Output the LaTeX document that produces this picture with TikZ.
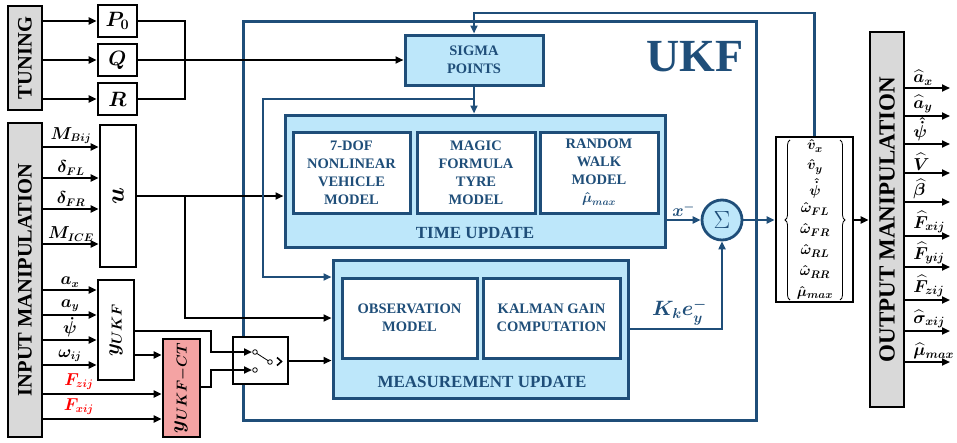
\documentclass[tikz,border=0pt]{standalone}
\usepackage{fontspec}
\setmainfont{Liberation Serif}
\usepackage{amsmath}
\usepackage{graphicx}
\usetikzlibrary{arrows.meta,decorations.pathreplacing}
\definecolor{dblue}{HTML}{1F4E79}
\definecolor{lblue}{HTML}{BDE7FA}
\definecolor{gfill}{HTML}{D9D9D9}
\definecolor{rfill}{HTML}{F4A3A3}
\definecolor{rtext}{HTML}{FF0000}
\begin{document}
\begin{tikzpicture}[x=1pt,y=-1pt,
  arr/.style={line width=2pt,-{Triangle[length=8pt,width=7pt]}},
  ln/.style={line width=2pt},
  barr/.style={draw=dblue,line width=2.3pt,-{Triangle[length=8pt,width=7pt]}},
  bbox/.style={draw,line width=2.8pt,fill=white,inner sep=0pt},
  gbox/.style={draw,line width=2.8pt,fill=gfill,inner sep=0pt,font=\fontsize{20.5}{21}\selectfont\bfseries},
  lbbox/.style={draw=dblue,line width=3pt,fill=lblue,inner sep=0pt},
  wbbox/.style={draw=dblue,line width=3pt,fill=white,inner sep=0pt,align=center,text=dblue,font=\fontsize{14.5}{18}\selectfont\bfseries},
  bigtxt/.style={text=dblue,font=\fontsize{17}{17}\selectfont\bfseries},
  mlab/.style={font=\fontsize{16}{16}\selectfont\boldmath,inner sep=1pt},
  vlab/.style={font=\fontsize{15}{15}\selectfont\boldmath,inner sep=0pt},
  olab/.style={font=\fontsize{16.5}{16.5}\selectfont\boldmath,inner sep=0pt,anchor=south west,pos=0,xshift=7pt,yshift=2pt},
  vbrace/.style={decorate,decoration={brace,amplitude=5pt},line width=0.8pt}
]
\useasboundingbox (0,0) rectangle (957,442);
% UKF frame
\node[draw=dblue,line width=3pt,minimum width=513pt,minimum height=399pt,inner sep=0pt] (ukf) at (499.5,220.5) {};
\node[text=dblue,font=\fontsize{46}{46}\selectfont\bfseries] (ukflbl) at (695,57) {UKF};

% tuning
\node[gbox,minimum width=34pt,minimum height=104pt] (tuning) at (25,58) {\rotatebox{90}{TUNING}};
\node[bbox,minimum width=39pt,minimum height=32pt,font=\fontsize{20}{20}\selectfont\boldmath] (P0) at (117.5,21) {$P_0$};
\node[bbox,minimum width=39pt,minimum height=32pt,font=\fontsize{20}{20}\selectfont\boldmath] (Q) at (117.5,60) {$Q$};
\node[bbox,minimum width=39pt,minimum height=32pt,font=\fontsize{20}{20}\selectfont\boldmath] (R) at (117.5,99) {$R$};

% input manipulation
\node[gbox,minimum width=34pt,minimum height=314pt] (inman) at (25,280) {\rotatebox{90}{INPUT MANIPULATION}};
\node[bbox,minimum width=36pt,minimum height=142pt,font=\fontsize{32}{32}\selectfont\boldmath] (u) at (118,196) {\rotatebox{90}{$u$}};
\node[bbox,minimum width=36pt,minimum height=100pt,font=\fontsize{22}{22}\selectfont\boldmath] (yukf) at (116,330) {\rotatebox{90}{$y_{UKF}$}};
\node[bbox,fill=rfill,minimum width=37pt,minimum height=98pt,font=\fontsize{22}{22}\selectfont\boldmath] (yct) at (181.5,388) {\rotatebox{90}{$y_{UKF-CT}$}};
\node[bbox,minimum width=55pt,minimum height=47pt] (switch) at (260.5,360.5) {};

% sigma points
\node[lbbox,minimum width=138pt,minimum height=50pt,align=center,text=dblue,font=\fontsize{14.5}{18}\selectfont\bfseries] (sigma) at (474,60) {SIGMA\\POINTS};

% time update
\node[lbbox,minimum width=380pt,minimum height=132pt] (tu) at (475,181) {};
\node[wbbox,minimum width=117pt,minimum height=81pt] (tu1) at (351.5,172.5) {7-DOF\\NONLINEAR\\VEHICLE\\MODEL};
\node[wbbox,minimum width=118pt,minimum height=81pt] (tu2) at (476,172.5) {MAGIC\\FORMULA\\TYRE\\MODEL};
\node[wbbox,minimum width=118pt,minimum height=81pt] (tu3) at (599,172.5) {RANDOM\\WALK\\MODEL\\{\boldmath$\hat{\mu}_{max}$}};
\node[bigtxt] (tulbl) at (475,233) {TIME UPDATE};

% measurement update
\node[lbbox,minimum width=295pt,minimum height=138pt] (mu) at (480.5,329) {};
\node[wbbox,minimum width=135pt,minimum height=80pt] (mu1) at (409.5,318) {OBSERVATION\\MODEL};
\node[wbbox,minimum width=137pt,minimum height=80pt] (mu2) at (551.5,318) {KALMAN GAIN\\COMPUTATION};
\node[bigtxt] (mulbl) at (482,382) {MEASUREMENT UPDATE};

% sum
\node[circle,draw=dblue,fill=lblue,line width=2.8pt,minimum size=40pt,inner sep=0pt,text=dblue,font=\fontsize{24}{24}\selectfont] (sum) at (722,220) {$\Sigma$};

% state vector
\node[bbox,minimum width=77pt,minimum height=165pt] (vecbox) at (814.5,219.5) {};
\node[vlab] (e1) at (815,146) {$\hat{v}_x$};
\node[vlab] (e2) at (815,167) {$\hat{v}_y$};
\node[vlab] (e3) at (815,188) {$\hat{\dot{\psi}}$};
\node[vlab] (e4) at (815,209) {$\hat{\omega}_{FL}$};
\node[vlab] (e5) at (815,230) {$\hat{\omega}_{FR}$};
\node[vlab] (e6) at (815,251) {$\hat{\omega}_{RL}$};
\node[vlab] (e7) at (815,272) {$\hat{\omega}_{RR}$};
\node[vlab] (e8) at (815,293) {$\hat{\mu}_{max}$};
\coordinate (bl1) at (790,300); \coordinate (bl2) at (790,140);
\coordinate (br1) at (840,140); \coordinate (br2) at (840,300);
\draw[vbrace] (bl1) -- (bl2);
\draw[vbrace] (br1) -- (br2);

% output manipulation
\node[gbox,minimum width=34pt,minimum height=375pt,font=\fontsize{23}{23}\selectfont\bfseries] (outman) at (887,219.5) {\rotatebox{90}{OUTPUT MANIPULATION}};

% coordinates
\coordinate (iu1) at (0,147); \coordinate (iu2) at (0,178); \coordinate (iu3) at (0,209); \coordinate (iu4) at (0,244);
\coordinate (iy1) at (0,290); \coordinate (iy2) at (0,315); \coordinate (iy3) at (0,340); \coordinate (iy4) at (0,365);
\coordinate (ic1) at (0,394); \coordinate (ic2) at (0,419);
\coordinate (tj) at (185,0);
\coordinate (ub) at (185,196);
\coordinate (bj) at (474,99); \coordinate (bl) at (263,99);
\coordinate (im1) at (0,277); \coordinate (im2) at (0,318);
\coordinate (fbt) at (0,13);
\coordinate (yo1) at (0,331); \coordinate (yo2) at (0,355); \coordinate (cto) at (0,387);
\coordinate (jx) at (211,0);
\coordinate (sw1) at (252,352); \coordinate (sw2) at (252,370);
\coordinate (oend) at (950,0);
\coordinate (oo1) at (0,88); \coordinate (oo2) at (0,116); \coordinate (oo3) at (0,144); \coordinate (oo4) at (0,173); \coordinate (oo5) at (0,202);
\coordinate (oo6) at (0,236); \coordinate (oo7) at (0,267); \coordinate (oo8) at (0,300); \coordinate (oo9) at (0,331); \coordinate (oo10) at (0,362);

% tuning connectors
\draw[arr] (tuning.east |- P0) -- (P0.west);
\draw[arr] (tuning.east |- Q) -- (Q.west);
\draw[arr] (tuning.east |- R) -- (R.west);
\draw[ln] (P0.east) -| (tj |- R.east) -- (R.east);
\draw[arr] (Q.east) -- (sigma.west);

% inputs to u
\draw[arr] (inman.east |- iu1) -- node[mlab,midway,above=1pt]{$M_{Bij}$} (u.west |- iu1);
\draw[arr] (inman.east |- iu2) -- node[mlab,midway,above=1pt]{$\delta_{FL}$} (u.west |- iu2);
\draw[arr] (inman.east |- iu3) -- node[mlab,midway,above=1pt]{$\delta_{FR}$} (u.west |- iu3);
\draw[arr] (inman.east |- iu4) -- node[mlab,midway,above=1pt]{$M_{ICE}$} (u.west |- iu4);

% inputs to yukf
\draw[arr] (inman.east |- iy1) -- node[mlab,midway,above=1pt]{$a_x$} (yukf.west |- iy1);
\draw[arr] (inman.east |- iy2) -- node[mlab,midway,above=1pt]{$a_y$} (yukf.west |- iy2);
\draw[arr] (inman.east |- iy3) -- node[mlab,midway,above=1pt]{$\dot{\psi}$} (yukf.west |- iy3);
\draw[arr] (inman.east |- iy4) -- node[mlab,midway,above=1pt]{$\omega_{ij}$} (yukf.west |- iy4);
\draw[arr] (inman.east |- ic1) -- node[mlab,text=rtext,pos=0.3,above=2pt]{$F_{zij}$} (yct.west |- ic1);
\draw[arr] (inman.east |- ic2) -- node[mlab,text=rtext,pos=0.3,above=2pt]{$F_{xij}$} (yct.west |- ic2);

% u outputs
\draw[arr] (u.east) -- (u.east -| tu.west);
\draw[arr] (ub) |- (mu.west |- im2);

% yukf / yct to switch
\draw[arr] (yukf.east |- yo1) -| (jx |- sw1) -- (sw1);
\draw[arr] (yukf.east |- yo2) -- (yct.west |- yo2);
\draw[arr] (yct.east |- cto) -| (jx |- sw2) -- (sw2);
\draw[arr] (switch.east) -- (mu.west |- switch.east);
% switch symbol
\draw[line width=0.8pt] (256.5,353.2) -- (268.3,360.8);
\draw[line width=0.8pt,fill=white] (255,352) circle[radius=2.3pt];
\draw[line width=0.8pt,fill=white] (255,370) circle[radius=2.3pt];
\draw[line width=0.8pt,fill=white] (270,362) circle[radius=2.3pt];
\draw[line width=1.6pt] (277,357.5) -- (281.5,361.5) -- (277,365.5);

% blue connectors
\draw[barr] (sigma.south) -- (sigma.south |- tu.north);
\draw[barr] (bj) -- (bl) |- (mu.west |- im1);
\draw[barr] (vecbox.north) -- (vecbox.north |- fbt) -| (sigma.north);
\draw[barr] (tu.east |- sum) -- node[midway,above=1pt,font=\fontsize{17}{17}\selectfont\boldmath,text=dblue,inner sep=1pt]{$x^-$} (sum.west);
\draw[barr] (mu.east) -| node[pos=0.27,above=2pt,font=\fontsize{21}{21}\selectfont\boldmath,text=dblue,inner sep=1pt]{$K_k e_y^-$} (sum.south);
\draw[barr] (sum.east) -- (vecbox.west |- sum);
\draw[arr] (vecbox.east |- sum) -- (outman.west |- sum);

% outputs
\draw[arr] (outman.east |- oo1) -- node[olab]{$\widehat{a}_x$} (oend |- oo1);
\draw[arr] (outman.east |- oo2) -- node[olab]{$\widehat{a}_y$} (oend |- oo2);
\draw[arr] (outman.east |- oo3) -- node[olab]{$\hat{\dot{\psi}}$} (oend |- oo3);
\draw[arr] (outman.east |- oo4) -- node[olab]{$\widehat{V}$} (oend |- oo4);
\draw[arr] (outman.east |- oo5) -- node[olab]{$\widehat{\beta}$} (oend |- oo5);
\draw[arr] (outman.east |- oo6) -- node[olab]{$\widehat{F}_{xij}$} (oend |- oo6);
\draw[arr] (outman.east |- oo7) -- node[olab]{$\widehat{F}_{yij}$} (oend |- oo7);
\draw[arr] (outman.east |- oo8) -- node[olab]{$\widehat{F}_{zij}$} (oend |- oo8);
\draw[arr] (outman.east |- oo9) -- node[olab]{$\widehat{\sigma}_{xij}$} (oend |- oo9);
\draw[arr] (outman.east |- oo10) -- node[olab]{$\widehat{\mu}_{max}$} (oend |- oo10);
\end{tikzpicture}
\end{document}
